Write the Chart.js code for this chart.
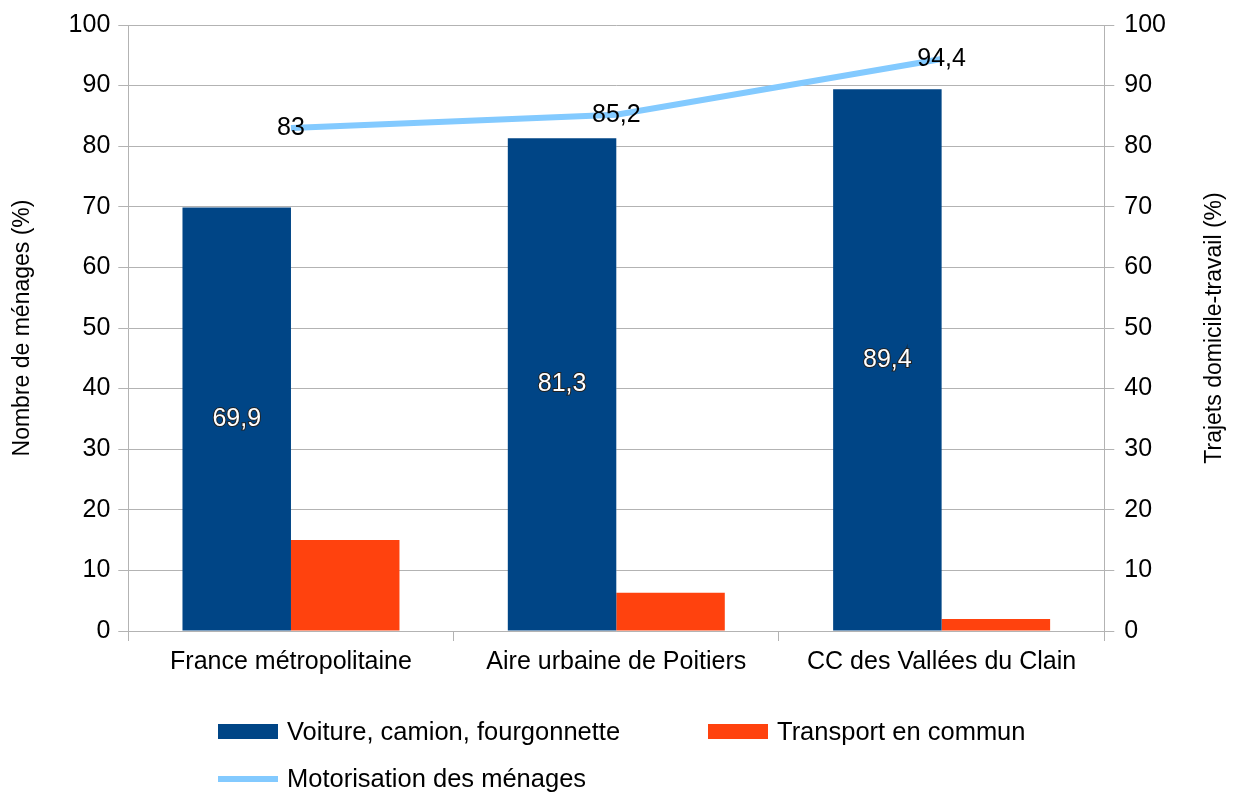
<!DOCTYPE html>
<html>
<head>
<meta charset="utf-8">
<script src="https://cdn.jsdelivr.net/npm/chart.js@4.4.0/dist/chart.umd.min.js"></script>
<style>
  body { margin: 0; background: #fff; font-family: "Liberation Sans", Arial, sans-serif; }
  #wrap { position: relative; width: 1235px; height: 794px; }
  #legend { position: absolute; left: 0; top: 0; width: 1235px; height: 794px; pointer-events: none; }
  .item { position: absolute; font-size: 25.5px; color: #000; white-space: nowrap; line-height: 28px; }
  .sw { position: absolute; left: 0; width: 60px; }
  .item span.t { position: absolute; left: 69px; top: 0; }
</style>
</head>
<body>
<div id="wrap">
  <canvas id="chart" width="1235" height="794"></canvas>
  <div id="legend"></div>
</div>
<script>
var categories = ['France métropolitaine', 'Aire urbaine de Poitiers', 'CC des Vallées du Clain'];
var voiture = [69.9, 81.3, 89.4];
var transport = [15.0, 6.3, 2.0];
var motorisation = [83, 85.2, 94.4];
var yTicks = [0, 10, 20, 30, 40, 50, 60, 70, 80, 90, 100];

var FONT = "'Liberation Sans', Arial, sans-serif";
var GRID = '#b3b3b3';

function fmt(v) {
    return String(v).replace('.', ',');
}

// labels drawn on bars and points, plus the right axis title (reads bottom to top)
var valueLabels = {
    id: 'valueLabels',
    afterDatasetsDraw: function(chart) {
        var ctx = chart.ctx;
        ctx.save();
        ctx.font = '25px ' + FONT;
        ctx.textAlign = 'center';
        ctx.textBaseline = 'middle';
        chart.getDatasetMeta(0).data.forEach(function(bar, i) {
            var y = (bar.y + bar.base) / 2;
            ctx.lineWidth = 2;
            ctx.strokeStyle = '#222';
            ctx.strokeText(fmt(voiture[i]), bar.x, y);
            ctx.fillStyle = '#fff';
            ctx.fillText(fmt(voiture[i]), bar.x, y);
        });
        chart.getDatasetMeta(2).data.forEach(function(pt, i) {
            ctx.fillStyle = '#000';
            ctx.fillText(fmt(motorisation[i]), pt.x, pt.y);
        });
        var area = chart.chartArea;
        ctx.translate(1215, (area.top + area.bottom) / 2);
        ctx.rotate(-Math.PI / 2);
        ctx.font = '23px ' + FONT;
        ctx.fillText('Trajets domicile-travail (%)', 0, 0);
        ctx.restore();
    }
};

var myChart = new Chart(document.getElementById('chart'), {
    type: 'bar',
    data: {
        labels: categories,
        datasets: [{
            label: 'Voiture, camion, fourgonnette',
            data: voiture,
            backgroundColor: '#004586',
            yAxisID: 'y1',
            order: 2
        }, {
            label: 'Transport en commun',
            data: transport,
            backgroundColor: '#ff420e',
            yAxisID: 'y1',
            order: 2
        }, {
            type: 'line',
            label: 'Motorisation des ménages',
            data: motorisation,
            borderColor: '#83caff',
            backgroundColor: '#83caff',
            borderWidth: 6,
            pointRadius: 0,
            tension: 0,
            yAxisID: 'y',
            order: 1
        }]
    },
    options: {
        responsive: false,
        animation: false,
        devicePixelRatio: 1,
        layout: { padding: { left: 5, right: 59, top: 13, bottom: 111 } },
        datasets: {
            bar: { categoryPercentage: 0.667, barPercentage: 1.0 }
        },
        scales: {
            x: {
                grid: { offset: true, drawOnChartArea: false, drawTicks: true, tickLength: 10, color: GRID },
                border: { color: GRID },
                ticks: { color: '#000', font: { family: FONT, size: 25 }, padding: 6 }
            },
            y: {
                position: 'left',
                min: 0, max: 100,
                afterBuildTicks: function(axis) { axis.ticks = yTicks.map(function(v) { return { value: v }; }); },
                grid: { color: GRID, tickLength: 10 },
                border: { color: GRID },
                ticks: { color: '#000', font: { family: FONT, size: 25 }, padding: 8 },
                title: { display: true, text: 'Nombre de ménages (%)', color: '#000', font: { family: FONT, size: 23 }, padding: { bottom: 24 } }
            },
            y1: {
                position: 'right',
                min: 0, max: 100,
                afterBuildTicks: function(axis) { axis.ticks = yTicks.map(function(v) { return { value: v }; }); },
                grid: { drawOnChartArea: false, color: GRID, tickLength: 10 },
                border: { color: GRID },
                ticks: { color: '#000', font: { family: FONT, size: 25 }, padding: 10 }
            }
        },
        plugins: {
            legend: { display: false },
            tooltip: { enabled: false }
        }
    },
    plugins: [valueLabels]
});

// legend in two columns like the original
var spots = [[218, 717], [708, 717], [218, 764]];
var legendHtml = '';
myChart.data.datasets.forEach(function(ds, i) {
    var isLine = ds.type === 'line';
    var sw = isLine
        ? '<div class="sw" style="top:12px;height:6px;background:' + ds.borderColor + '"></div>'
        : '<div class="sw" style="top:7px;height:15px;background:' + ds.backgroundColor + '"></div>';
    legendHtml += '<div class="item" style="left:' + spots[i][0] + 'px;top:' + spots[i][1] + 'px">' + sw + '<span class="t">' + ds.label + '</span></div>';
});
document.getElementById('legend').innerHTML = legendHtml;
</script>
</body>
</html>
